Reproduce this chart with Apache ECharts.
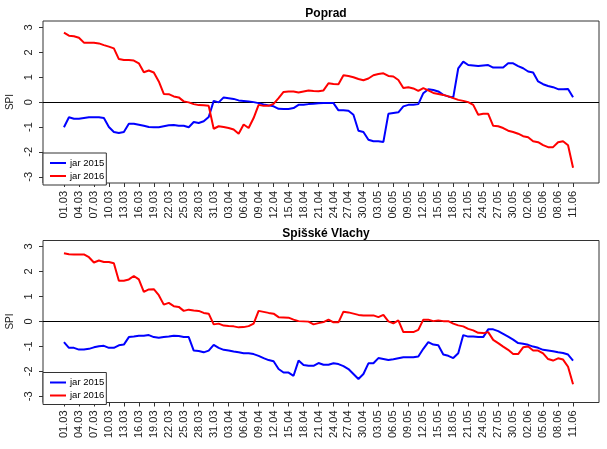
<!DOCTYPE html>
<html><head><meta charset="utf-8">
<script src="https://cdn.jsdelivr.net/npm/echarts@6/dist/echarts.min.js"></script>
<style>html,body{margin:0;padding:0;background:#fff}#c{width:607px;height:449px}</style>
</head><body><div id="c"></div>
<script>
const tickLabels = ['01.03','04.03','07.03','10.03','13.03','16.03','19.03','22.03','25.03','28.03','31.03','03.04','06.04','09.04','12.04','15.04','18.04','21.04','24.04','27.04','30.04','03.05','06.05','09.05','12.05','15.05','18.05','21.05','24.05','27.05','30.05','02.06','05.06','08.06','11.06'];
const titles = ['Poprad', 'Spišské Vlachy'];
const seriesNames = ['jar 2015', 'jar 2016'];
const yTicks = [-3, -2, -1, 0, 1, 2, 3];

const poprad2015 = [-1.01,-0.61,-0.67,-0.67,-0.64,-0.61,-0.61,-0.61,-0.64,-1.0,-1.2,-1.24,-1.2,-0.87,-0.87,-0.91,-0.95,-1.0,-1.01,-1.01,-0.97,-0.93,-0.92,-0.95,-0.95,-1.01,-0.8,-0.84,-0.77,-0.6,0.05,-0.01,0.19,0.16,0.13,0.07,0.05,0.03,0.0,-0.04,-0.09,-0.13,-0.17,-0.27,-0.28,-0.28,-0.24,-0.11,-0.11,-0.08,-0.07,-0.05,-0.04,-0.04,-0.04,-0.33,-0.33,-0.35,-0.51,-1.15,-1.2,-1.51,-1.57,-1.57,-1.6,-0.47,-0.44,-0.41,-0.17,-0.11,-0.11,-0.08,0.36,0.52,0.49,0.43,0.29,0.23,0.19,1.36,1.63,1.49,1.47,1.45,1.47,1.49,1.39,1.39,1.39,1.56,1.56,1.45,1.36,1.23,1.19,0.83,0.72,0.65,0.6,0.52,0.52,0.53,0.2];
const poprad2016 = [2.79,2.67,2.65,2.59,2.39,2.39,2.39,2.36,2.29,2.23,2.16,1.73,1.69,1.69,1.67,1.56,1.2,1.27,1.19,0.83,0.33,0.32,0.23,0.19,0.03,-0.01,-0.08,-0.12,-0.13,-0.15,-1.07,-0.97,-1.0,-1.04,-1.1,-1.27,-0.9,-1.04,-0.64,-0.11,-0.15,-0.15,-0.07,0.16,0.41,0.43,0.43,0.39,0.43,0.47,0.45,0.44,0.47,0.76,0.73,0.72,1.08,1.05,1.0,0.93,0.88,0.95,1.08,1.13,1.16,1.05,1.03,0.89,0.57,0.6,0.55,0.45,0.56,0.47,0.37,0.33,0.29,0.23,0.16,0.09,0.05,0.0,-0.11,-0.51,-0.47,-0.47,-0.95,-0.97,-1.04,-1.15,-1.2,-1.27,-1.37,-1.41,-1.57,-1.61,-1.73,-1.81,-1.81,-1.61,-1.57,-1.73,-2.64];
const vlachy2015 = [-0.83,-1.06,-1.06,-1.13,-1.13,-1.1,-1.04,-1.0,-0.98,-1.06,-1.06,-0.96,-0.93,-0.63,-0.61,-0.58,-0.58,-0.55,-0.63,-0.66,-0.63,-0.61,-0.58,-0.59,-0.63,-0.63,-1.17,-1.19,-1.24,-1.17,-0.94,-1.06,-1.14,-1.17,-1.21,-1.24,-1.28,-1.28,-1.31,-1.38,-1.47,-1.55,-1.6,-1.91,-2.05,-2.05,-2.18,-1.57,-1.75,-1.78,-1.78,-1.67,-1.74,-1.74,-1.68,-1.71,-1.79,-1.91,-2.11,-2.31,-2.11,-1.68,-1.68,-1.47,-1.51,-1.55,-1.52,-1.48,-1.44,-1.44,-1.44,-1.41,-1.1,-0.83,-0.93,-0.96,-1.33,-1.38,-1.47,-1.28,-0.55,-0.61,-0.61,-0.63,-0.63,-0.32,-0.32,-0.39,-0.5,-0.61,-0.73,-0.87,-0.9,-0.94,-1.01,-1.06,-1.14,-1.17,-1.2,-1.24,-1.27,-1.33,-1.57];
const vlachy2016 = [2.73,2.69,2.68,2.68,2.68,2.57,2.36,2.44,2.38,2.38,2.33,1.63,1.63,1.68,1.82,1.68,1.18,1.28,1.29,1.05,0.67,0.74,0.61,0.58,0.42,0.47,0.44,0.42,0.34,0.31,-0.12,-0.09,-0.17,-0.19,-0.2,-0.24,-0.23,-0.19,-0.09,0.42,0.38,0.34,0.31,0.17,0.16,0.15,0.07,0.01,0.0,-0.01,-0.12,-0.07,-0.03,0.07,-0.04,-0.04,0.39,0.36,0.31,0.26,0.24,0.24,0.24,0.17,0.26,0.0,-0.08,0.04,-0.43,-0.43,-0.43,-0.34,0.07,0.07,0.01,0.04,0.01,0.01,-0.09,-0.16,-0.2,-0.3,-0.36,-0.46,-0.47,-0.43,-0.74,-0.87,-1.01,-1.14,-1.31,-1.31,-1.04,-1.01,-1.17,-1.17,-1.28,-1.51,-1.57,-1.48,-1.53,-1.82,-2.52];

const panels = [[poprad2015, poprad2016], [vlachy2015, vlachy2016]];
const colors = ['#0000ff', '#ff0000'];
const tickIdx = tickLabels.map((_, k) => k * 3);
const FONT = 'Liberation Sans, Arial, sans-serif';

const grids = [
  {left: 43, top: 21, width: 556, height: 162},
  {left: 43, top: 240.5, width: 556, height: 162}
];

const option = {
  animation: false,
  backgroundColor: '#fff',
  title: titles.map((t, i) => ({
    text: t, left: 321, top: i === 0 ? 3 : 222.5, textAlign: 'center',
    textStyle: {fontFamily: FONT, fontSize: 12, fontWeight: 'bold', color: '#000'}
  })),
  grid: grids.map(g => Object.assign({show: true, borderColor: '#333', borderWidth: 1, backgroundColor: 'transparent', outerBoundsMode: 'none', containLabel: false}, g)),
  legend: grids.map((g, i) => ({
    data: seriesNames,
    orient: 'vertical',
    left: 43, top: g.top + g.height - 30,
    itemWidth: 16, itemHeight: 2, itemGap: 3,
    icon: 'rect',
    padding: [5, 2, 4, 7],
    borderColor: '#333', borderWidth: 1, borderRadius: 0,
    backgroundColor: '#fff',
    selectedMode: false,
    textStyle: {fontFamily: FONT, fontSize: 9.5, color: '#000', padding: [0, 0, 0, -1]}
  })),
  xAxis: grids.map((g, i) => ({
    type: 'value', gridIndex: i, min: -4.2, max: 107.2,
    axisLine: {show: false, onZero: false},
    splitLine: {show: false},
    axisTick: {show: true, length: 4, customValues: tickIdx, lineStyle: {color: '#333'}},
    axisLabel: {
      customValues: tickIdx, rotate: 90, margin: 8,
      fontFamily: FONT, fontSize: 11, color: '#222',
      formatter: v => tickLabels[Math.round(v / 3)]
    }
  })),
  yAxis: grids.map((g, i) => ({
    type: 'value', gridIndex: i,
    min: -3.25, max: i === 0 ? 3.26 : 3.24,
    name: 'SPI', nameLocation: 'middle', nameGap: 28, nameRotate: 90,
    nameTextStyle: {fontFamily: FONT, fontSize: 10, color: '#222'},
    axisLine: {show: false, onZero: false},
    splitLine: {show: false},
    axisTick: {show: true, length: 4, customValues: yTicks, lineStyle: {color: '#333'}},
    axisLabel: {
      customValues: yTicks, rotate: 90, margin: 9,
      fontFamily: FONT, fontSize: 11, color: '#222'
    }
  })),
  series: []
};

panels.forEach((pair, p) => {
  pair.forEach((vals, s) => {
    option.series.push({
      type: 'line', name: seriesNames[s],
      xAxisIndex: p, yAxisIndex: p,
      data: vals.map((v, d) => [d, v]),
      showSymbol: false, symbol: 'none',
      lineStyle: {color: colors[s], width: 2},
      itemStyle: {color: colors[s]},
      z: 3,
      markLine: s === 0 ? {
        silent: true, symbol: 'none', label: {show: false},
        lineStyle: {color: '#000', width: 1, type: 'solid'},
        data: [{yAxis: 0}], z: 1
      } : undefined
    });
  });
});

const chart = echarts.init(document.getElementById('c'), null, {renderer: 'canvas'});
chart.setOption(option);
</script>
</body></html>
